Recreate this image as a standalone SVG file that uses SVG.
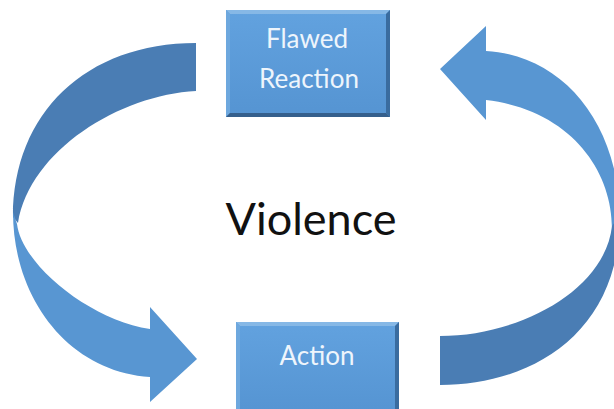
<svg xmlns="http://www.w3.org/2000/svg" width="614" height="409" viewBox="0 0 614 409">
<defs>
<style>
.lbl{font-family:Lato,"Open Sans","Liberation Sans",sans-serif;font-size:26px;fill:#eef5fc;text-anchor:middle}
.big{font-family:Lato,"Open Sans","Liberation Sans",sans-serif;font-size:45px;fill:#111;text-anchor:middle}
.dark{fill:#4a7db4}
.light{fill:#5896d2}
.face{fill:url(#g)}
.bt{fill:#86b8e6}
.bl{fill:#6ea8de}
.br{fill:#3a6c9f}
.bb{fill:#355f8c}
</style>
<linearGradient id="g" x1="0" y1="0" x2="0" y2="1">
<stop offset="0" stop-color="#62a2df"/>
<stop offset="1" stop-color="#5594d2"/>
</linearGradient>
</defs>
<rect width="614" height="409" fill="#fff"/>
<g id="connectors">
<g id="arrow-left">
<path class="dark" d="M196,43 C86,43 13,113 13,217 L18,223 C30,150 120,95 196,91 Z"/>
<path class="light" d="M13,212 C13,300 70,372 150,377 L150,402 L197,359 L150,307 L150,329 C90,320 22,265 17,224 Z"/>
</g>
<g id="arrow-right">
<path class="light" d="M620,222 C620,120 560,55 486,51 L486,26 L440,69 L486,120 L486,100 C570,110 612,170 612,228 Z"/>
<path class="dark" d="M620,215 C620,335 530,385 440,385 L440,336 C520,336 605,290 612,226 Z"/>
</g>
</g>
<g id="node-flawed">
<rect class="face" x="226" y="10" width="164" height="107"/>
<polygon class="bt" points="226,10 390,10 386,14 230,14"/>
<polygon class="bl" points="226,10 230,14 230,113 226,117"/>
<polygon class="br" points="390,10 390,117 386,113 386,14"/>
<polygon class="bb" points="226,117 390,117 386,113 230,113"/>
<text class="lbl" x="307" y="48">Flawed</text>
<text class="lbl" x="309" y="88">Reaction</text>
</g>
<g id="node-action">
<rect class="face" x="236" y="322" width="163" height="92"/>
<polygon class="bt" points="236,322 399,322 395,326 240,326"/>
<polygon class="bl" points="236,322 240,326 240,409 236,409"/>
<polygon class="br" points="399,322 399,409 395,409 395,326"/>
<text class="lbl" x="317" y="365">Action</text>
</g>
<g id="label-violence">
<text class="big" x="311" y="235">Violence</text>
</g>
</svg>
